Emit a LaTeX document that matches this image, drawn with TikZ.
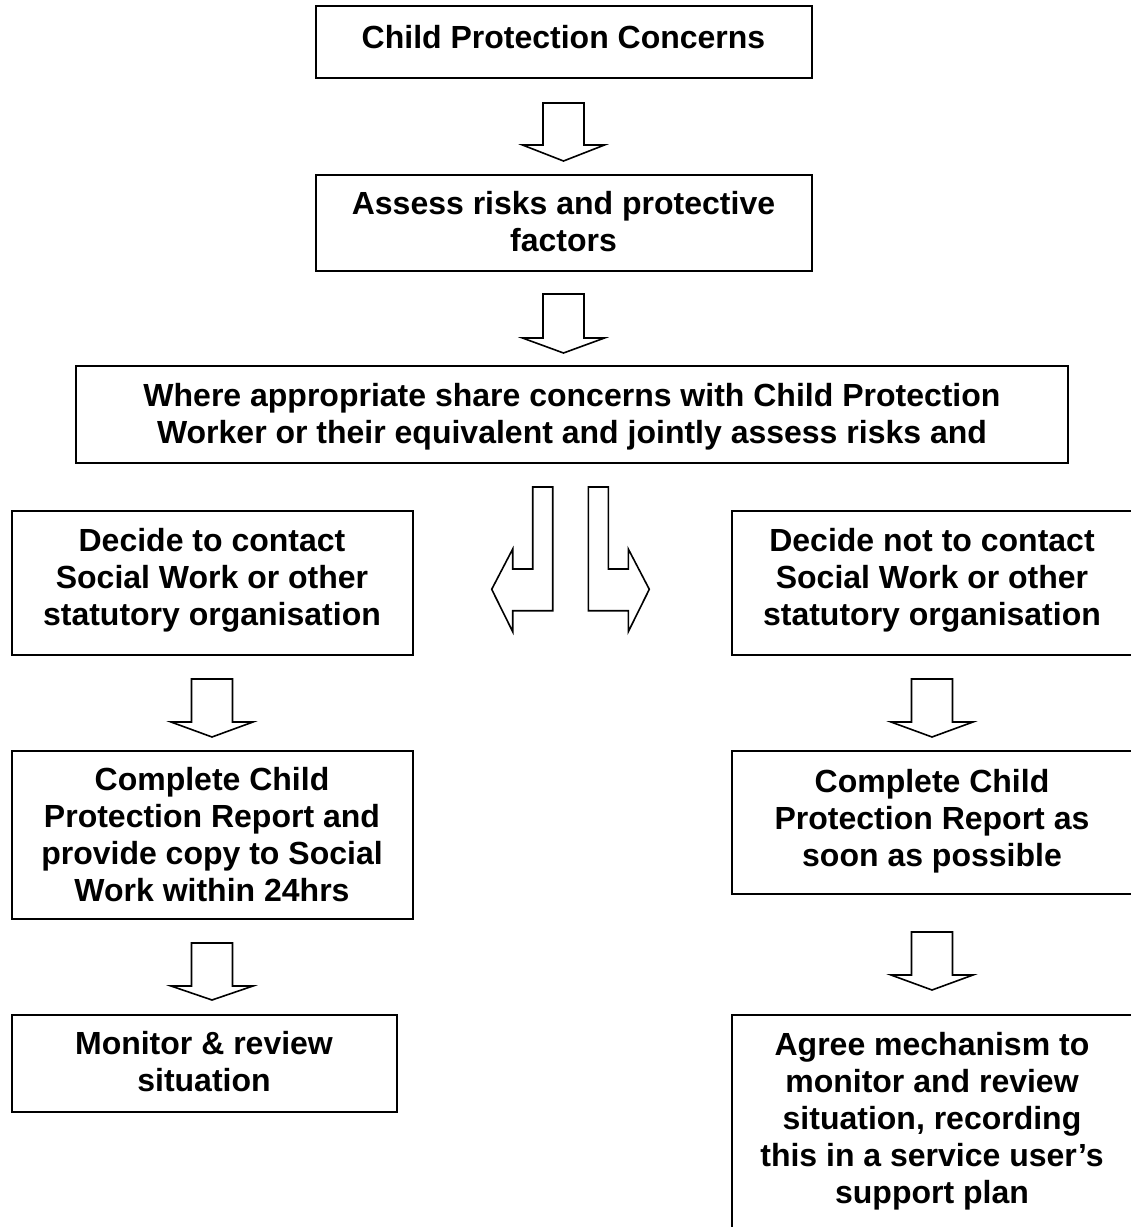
\documentclass[tikz,border=0pt]{standalone}
\usepackage{fontspec}
\setmainfont{Liberation Sans}
\tikzset{
  box/.style={draw, line width=2pt, rectangle, inner sep=0pt},
  txt/.style={align=center, font=\bfseries\fontsize{32}{37}\selectfont, inner sep=0pt},
  blk/.style={draw, line width=1.6pt, fill=white, line join=miter},
}
% box by corners: name, x1, y1, x2, y2 (y measured downwards)
\newcommand\cornerbox[5]{%
  \node[box, minimum width={(#4-#2)*1pt}, minimum height={(#5-#3)*1pt}]
    (#1) at ({(#2+#4)/2},{(#3+#5)/2}) {};}
% down block arrow: cx, top, base, tip
\newcommand\downblk[4]{%
  \draw[blk] ({#1-20.5},#2) -- ({#1+20.5},#2) -- ({#1+20.5},#3) -- ({#1+41},#3)
    -- (#1,#4) -- ({#1-41},#3) -- ({#1-20.5},#3) -- cycle;}
\begin{document}
\begin{tikzpicture}[x=1pt, y=-1pt]
  \clip (0,0) rectangle (1131,1227);
  \fill[white] (0,0) rectangle (1131,1227);

  % boxes
  \cornerbox{b1}{315.5}{6}{812}{78}
  \cornerbox{b2}{315.5}{175}{812}{271}
  \cornerbox{b3}{76}{366}{1068}{463}
  \cornerbox{b4}{11.5}{511}{412.5}{655}
  \cornerbox{b4r}{732}{511}{1133}{655}
  \cornerbox{b5}{11.5}{751}{412.5}{919}
  \cornerbox{b6}{11.5}{1015}{396.5}{1112}
  \cornerbox{b7}{732}{751}{1133}{894}
  \cornerbox{b8}{732}{1015}{1133}{1240}

  % texts
  \node[txt] (t1) at (563.5,41) {\strut Child Protection Concerns};
  \node[txt] (t2) at (563.5,225.6) {\strut Assess risks and protective\\\strut factors};
  \node[txt] (t3) at (572,417.6) {\strut Where appropriate share concerns with Child Protection\\\strut Worker or their equivalent and jointly assess risks and};
  \node[txt] (t4) at (212,581) {\strut Decide to contact\\\strut Social Work or other\\\strut statutory organisation};
  \node[txt] (t4r) at (932,581) {\strut Decide not to contact\\\strut Social Work or other\\\strut statutory organisation};
  \node[txt] (t5) at (212,839) {\strut Complete Child\\\strut Protection Report and\\\strut provide copy to Social\\\strut Work within 24hrs};
  \node[txt] (t6) at (204,1065.6) {\strut Monitor \& review\\\strut situation};
  \node[txt] (t7) at (932,822) {\strut Complete Child\\\strut Protection Report as\\\strut soon as possible};
  \node[txt] (t8) at (932,1122.5) {\strut Agree mechanism to\\\strut monitor and review\\\strut situation, recording\\\strut this in a service user’s\\\strut support plan};

  % block arrows
  \downblk{563.5}{103}{145}{161}
  \downblk{563.5}{294}{338}{353}
  \downblk{212}{679}{722}{737}
  \downblk{212}{943}{986}{1000}
  \downblk{932}{679}{722}{737}
  \downblk{932}{932}{975}{990}

  % bent arrows
  \draw[blk] (552.7,487) -- (532.7,487) -- (532.7,569) -- (512.7,569) -- (512.7,549)
    -- (491.7,589.3) -- (512.7,631.7) -- (512.7,610.7) -- (552.7,610.7) -- cycle;
  \draw[blk] (588.3,487) -- (608.3,487) -- (608.3,569) -- (628.3,569) -- (628.3,549)
    -- (649.3,589.3) -- (628.3,631.7) -- (628.3,610.7) -- (588.3,610.7) -- cycle;
\end{tikzpicture}
\end{document}
